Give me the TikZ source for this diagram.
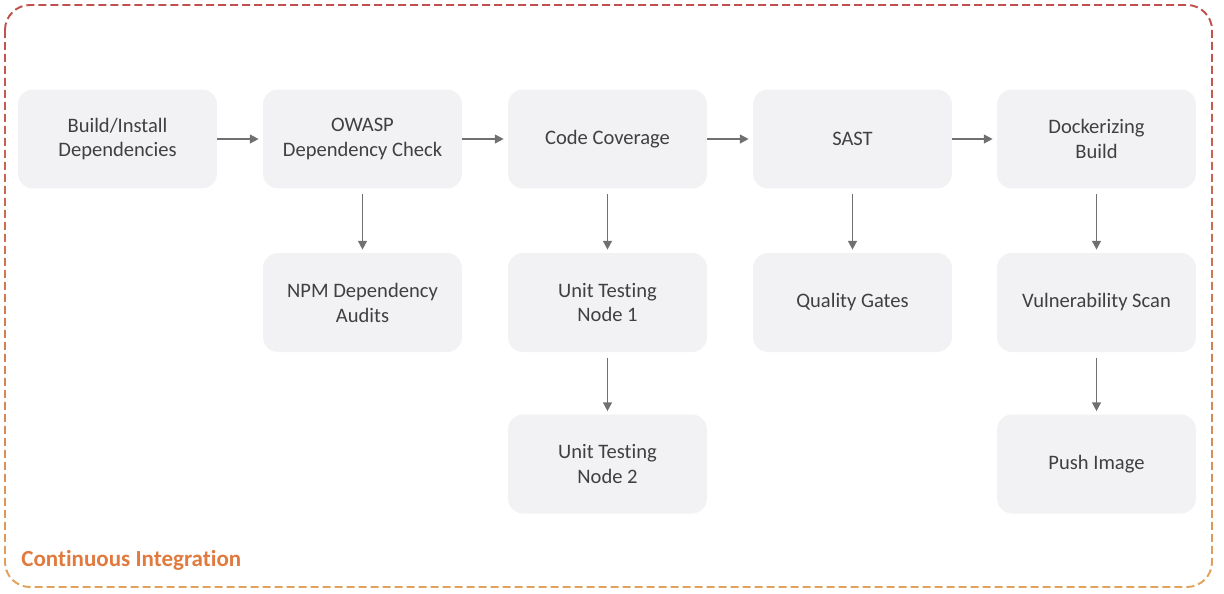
\documentclass[tikz,border=0pt]{standalone}
\usepackage{fontspec}
\setmainfont{Carlito}[RawFeature={-liga}]
\usetikzlibrary{arrows.meta,positioning}
\definecolor{boxgrey}{RGB}{242,241,244}
\definecolor{textgrey}{RGB}{64,64,64}
\definecolor{arrowgrey}{RGB}{112,112,112}
\definecolor{topred}{RGB}{192,80,77}
\definecolor{botorange}{RGB}{226,162,92}
\definecolor{cilabel}{RGB}{224,122,62}
\tikzset{
  stage/.style={rounded corners=0.3cm, fill=boxgrey, minimum width=3.98cm, minimum height=1.98cm,
    align=center, text=textgrey, inner sep=2pt, font=\fontsize{11.7}{14.2}\selectfont},
  flow/.style={-{Triangle[length=5pt,width=5pt]}, draw=arrowgrey, line width=0.9pt},
}
\begin{document}
\begin{tikzpicture}[x=0.02cm, y=-0.02cm]
\useasboundingbox (0,0) rectangle (1224,593);
% dashed frame, red at the top fading to orange at the bottom
\foreach \i in {0,...,19}{
  \pgfmathtruncatemacro{\pct}{\i*100/19}
  \colorlet{bandcol}{botorange!\pct!topred}
  \begin{scope}
    \clip (0,\i*30) rectangle (1224,\i*30+30);
    \draw[bandcol, line width=1.1pt, dash pattern=on 0.16cm off 0.08cm, rounded corners=0.5cm]
      (5,5) rectangle (1212,587);
  \end{scope}
}

% first row
\node[stage] (build) at (117.5,139) {Build/Install\\Dependencies};
\node[stage] (owasp) at (362.5,139) {OWASP\\Dependency Check};
\node[stage] (cover) at (607.5,139) {Code Coverage};
\node[stage] (sast) at (852.5,139) {SAST};
\node[stage] (docker) at (1096.5,139) {Dockerizing\\Build};

% second row
\node[stage] (npm) at (362.5,302.5) {NPM Dependency\\Audits};
\node[stage] (unit1) at (607.5,302.5) {Unit Testing\\Node 1};
\node[stage] (gates) at (852.5,302.5) {Quality Gates};
\node[stage] (vuln) at (1096.5,302.5) {Vulnerability Scan};

% third row
\node[stage] (unit2) at (607.5,464) {Unit Testing\\Node 2};
\node[stage] (push) at (1096.5,464) {Push Image};

\draw[flow, shorten >=0.08cm] (build) -- (owasp);
\draw[flow, shorten >=0.08cm] (owasp) -- (cover);
\draw[flow, shorten >=0.08cm] (cover) -- (sast);
\draw[flow, shorten >=0.08cm] (sast) -- (docker);

\draw[flow, shorten <=0.11cm, shorten >=0.06cm] (owasp) -- (npm);
\draw[flow, shorten <=0.11cm, shorten >=0.06cm] (cover) -- (unit1);
\draw[flow, shorten <=0.11cm, shorten >=0.06cm] (sast) -- (gates);
\draw[flow, shorten <=0.11cm, shorten >=0.06cm] (docker) -- (vuln);
\draw[flow, shorten <=0.11cm, shorten >=0.06cm] (unit1) -- (unit2);
\draw[flow, shorten <=0.11cm, shorten >=0.06cm] (vuln) -- (push);

\node[anchor=west, text=cilabel, font=\fontsize{13.1}{15}\selectfont\bfseries, inner sep=0pt] (cilbl) at (21,560) {Continuous Integration};
\end{tikzpicture}
\end{document}
